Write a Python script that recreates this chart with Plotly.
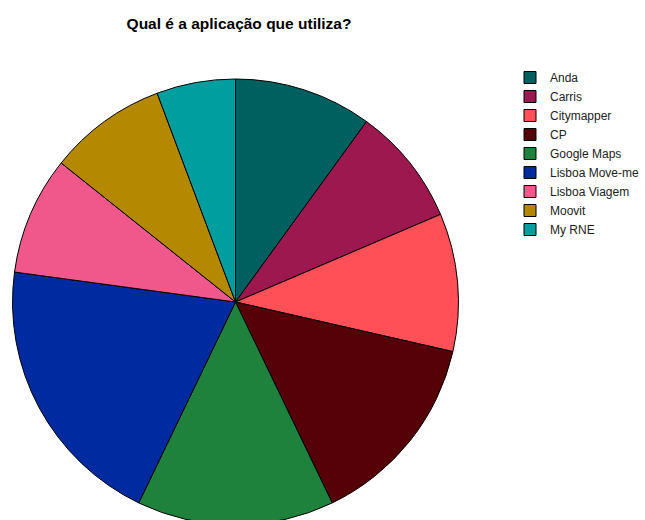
import plotly.graph_objects as go

labels = ["Anda", "Carris", "Citymapper", "CP", "Google Maps",
          "Lisboa Move-me", "Lisboa Viagem", "Moovit", "My RNE"]
counts = [7, 6, 7, 10, 10, 14, 6, 6, 4]
colors = ["#005f5f", "#9e1850", "#ff5058", "#560008", "#1e823c",
          "#002aa0", "#f0588c", "#b48800", "#009e9e"]

W, H = 645, 530
cx, cy, r = 235.5, 302, 223

fig = go.Figure(go.Pie(
    labels=labels, values=counts, sort=False, direction="clockwise",
    rotation=0, textinfo="none", hoverinfo="label+value+percent",
    marker=dict(colors=colors, line=dict(color="black", width=1)),
    domain=dict(x=[(cx - r) / W, (cx + r) / W],
                y=[(H - (cy + r)) / H, (H - (cy - r)) / H]),
))

fig.update_layout(
    width=W, height=H,
    margin=dict(l=0, r=0, t=0, b=0),
    paper_bgcolor="white", plot_bgcolor="white",
    title=dict(text="<b>Qual é a aplicação que utiliza?</b>",
               x=239 / W, xanchor="center", y=1 - 24 / H, yanchor="middle",
               font=dict(family="Liberation Sans, Arial", size=15.5, color="black")),
    legend=dict(x=1, xanchor="right", y=1 - 63 / H, yanchor="top",
                font=dict(family="Liberation Sans, Arial", size=12, color="#222"),
                bgcolor="rgba(0,0,0,0)", borderwidth=0, itemwidth=30,
                tracegroupgap=0),
    showlegend=True,
)

fig.write_html("out.html",
               post_script="document.documentElement.style.overflow='hidden';document.body.style.overflow='hidden';document.body.style.margin='0';")
